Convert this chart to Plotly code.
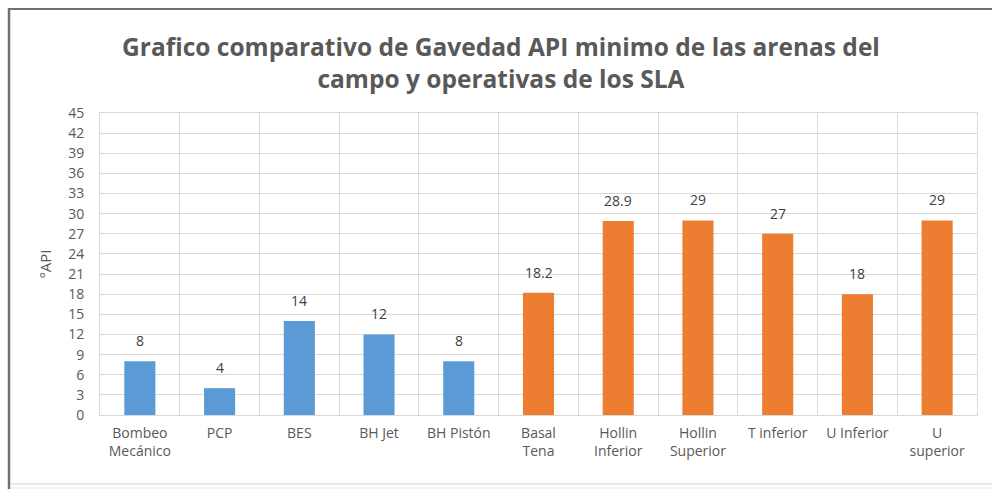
import plotly.graph_objects as go

categories = ["Bombeo Mecánico", "PCP", "BES", "BH Jet", "BH Pistón", "Basal Tena",
              "Hollin Inferior", "Hollin Superior", "T inferior", "U Inferior", "U superior"]
tick_labels = ["Bombeo<br>Mecánico", "PCP", "BES", "BH Jet", "BH Pistón", "Basal<br>Tena",
               "Hollin<br>Inferior", "Hollin<br>Superior", "T inferior", "U Inferior", "U<br>superior"]
values = [8, 4, 14, 12, 8, 18.2, 28.9, 29, 27, 18, 29]
groups = ["SLA", "SLA", "SLA", "SLA", "SLA", "Arena", "Arena", "Arena", "Arena", "Arena", "Arena"]
group_colors = {"SLA": "#5B9BD5", "Arena": "#ED7D31"}
label_text = ["8", "4", "14", "12", "8", "18.2", "28.9", "29", "27", "18", "29"]

W, H = 992, 489
L, R, T, B = 100, 15, 113, 74
pw, ph = W - L - R, H - T - B

def px(x):
    return (x - L) / pw

def py(y):
    return (H - B - y) / ph

fig = go.Figure()
fig.add_trace(go.Bar(
    x=categories, y=values,
    marker=dict(color=[group_colors[g] for g in groups], line=dict(width=0)),
    width=0.39,
    showlegend=False, hoverinfo="x+y",
))

for cat, val, lab in zip(categories, values, label_text):
    fig.add_annotation(x=cat, y=val, text=lab, showarrow=False,
                       yanchor="bottom", yshift=9,
                       font=dict(family="Open Sans, sans-serif", size=14, color="#404040"))

fig.update_layout(
    width=W, height=H,
    margin=dict(l=L, r=R, t=T, b=B, autoexpand=False),
    paper_bgcolor="white", plot_bgcolor="white",
    title=dict(
        text="<b>Grafico comparativo de Gavedad API minimo de las arenas del<br>campo y operativas de los SLA</b>",
        x=0.505, xanchor="center", y=1 - 56 / H, yanchor="middle",
        font=dict(family="Open Sans, sans-serif", size=24.5, color="#595959"),
    ),
    xaxis=dict(
        type="category", categoryorder="array", categoryarray=categories,
        tickvals=categories, ticktext=tick_labels, automargin=False,
        tickson="boundaries", showgrid=True, gridcolor="#D9D9D9", gridwidth=1,
        ticks="", showline=True, linecolor="#D9D9D9", mirror=True,
        tickfont=dict(family="Open Sans, sans-serif", size=14, color="#595959"),
        tickangle=0, range=[-0.5, 10.5], ticklabelstandoff=5,
    ),
    yaxis=dict(
        range=[0, 45], dtick=3, tick0=0, automargin=False,
        showgrid=True, gridcolor="#D9D9D9", gridwidth=1,
        showline=True, linecolor="#D9D9D9", mirror=True, zeroline=False,
        ticks="", ticklabelstandoff=12,
        tickfont=dict(family="Open Sans, sans-serif", size=14, color="#595959"),
        title=dict(text="°API", standoff=12,
                   font=dict(family="Open Sans, sans-serif", size=15, color="#595959")),
    ),
    bargap=0.6,
)

# outer frame (left and top only, as in the reference)
fig.add_shape(type="line", xref="paper", yref="paper",
              x0=px(9), x1=px(9), y0=py(489), y1=py(8),
              line=dict(color="#707070", width=2.5))
fig.add_shape(type="line", xref="paper", yref="paper",
              x0=px(8), x1=px(992), y0=py(9), y1=py(9),
              line=dict(color="#707070", width=2))
# spreadsheet rows below
fig.add_shape(type="line", xref="paper", yref="paper",
              x0=px(10), x1=px(992), y0=py(484), y1=py(484),
              line=dict(color="#E0E0E0", width=1.5))
fig.add_shape(type="line", xref="paper", yref="paper",
              x0=px(10), x1=px(992), y0=py(488), y1=py(488),
              line=dict(color="#E6E6E6", width=1))

fig.write_html("out.html", config={"displayModeBar": False},
               post_script="document.body.style.margin='0';document.body.style.overflow='hidden';")
